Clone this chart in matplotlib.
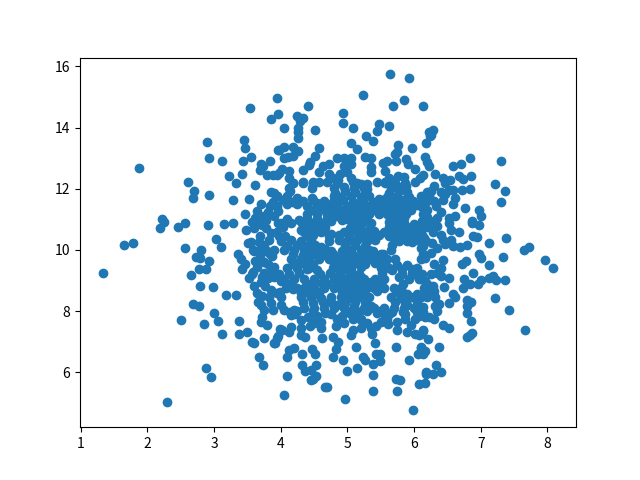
import matplotlib
matplotlib.use("Agg")
import matplotlib.pyplot as plt
import numpy as np

plt.rcParams['font.family'] = ['Noto Sans CJK SC', 'DejaVu Sans']

# values, region by region
upper_left = [(1.875,12.69),(3.54,14.65),(3.94,14.98),(3.86,14.29),(3.96,14.43),(2.90,13.54),(3.45,13.60),(3.47,13.34),
    (3.96,13.28),(2.93,13.02),(3.12,12.92),(3.56,13.05),(3.44,12.92),(3.84,12.92),(3.71,12.80),(3.74,12.75),(3.69,12.61),
    (3.79,12.46),(3.95,12.46),(3.23,12.43),(3.42,12.49),(3.33,12.20),(3.62,12.13),(2.61,12.23),(2.70,11.94),(2.69,11.71),
    (2.93,11.81),(3.29,11.64),(3.53,11.68),(3.90,11.87),(3.94,11.75),(3.84,11.45),(3.81,11.25),(3.65,11.28),(3.47,11.19),
    (3.96,11.28),(3.75,11.12),(3.57,10.92),(3.66,10.92),(3.72,10.82),(2.22,11.02),(2.25,10.92),(2.19,10.70),(2.46,10.76),
    (2.57,10.89),(2.91,10.83),(3.15,10.86),(3.28,10.89),(3.96,10.89),(3.48,10.66),(3.85,10.56),(3.03,10.37),(3.69,10.46),
    (3.98,10.46),(3.82,10.33),(3.51,10.24),(3.56,10.27),(1.65,10.17),(1.79,10.24),(2.57,10.07),(2.81,10.01),(3.11,10.11),
    (3.70,10.07)]

lower_left = [(1.33,9.26),(2.73,9.77),(2.79,9.74),(2.93,9.65),(2.78,9.36),(2.88,9.39),(2.66,9.19),(2.79,8.83),(2.99,8.77),
    (3.18,8.54),(3.33,8.54),(2.69,8.24),(2.78,8.15),(3.00,7.92),(3.06,7.69),(2.51,7.72),(2.85,7.56),(3.12,7.26),(3.38,7.66),
    (3.38,7.26),(3.50,7.33),(3.57,7.00),(3.60,6.97),(3.75,7.13),(3.90,6.97),(3.95,7.12),(3.68,6.51),(3.74,6.25),(2.88,6.15),
    (2.96,5.83),(2.30,5.04),(3.36,9.85),(3.41,9.71),(3.47,9.55),(3.42,9.36),(3.59,9.28),(3.53,9.09),(3.60,8.83),(3.57,9.20),
    (3.77,8.83),(3.81,9.09),(3.75,9.26),(3.81,9.55),(3.87,9.80),(3.69,9.80),(3.66,9.64),(3.59,10.00),(3.80,9.95),(3.97,9.20),
    (4.00,8.98),(3.94,8.59),(4.00,8.46),(3.66,8.31),(3.70,8.20),(3.86,8.25),(3.75,8.02),(3.88,8.02),(4.00,8.20),(3.72,7.80),
    (3.70,7.64),(3.80,7.53),(3.99,7.40)]

upper_mid = [(5.64,15.74),(5.93,15.63),(5.24,15.07),(4.41,14.71),(5.85,14.91),(5.69,14.71),(6.14,14.71),(4.94,14.49),
    (4.94,14.16),(4.25,14.39),(4.34,14.32),(4.29,14.23),(4.05,14.00),(4.26,14.00),(4.26,13.67),(4.26,13.84),(4.52,13.93),
    (5.09,14.00),(5.48,14.12),(5.45,13.90),(5.63,14.06),(5.28,13.73),(5.39,13.57),(5.06,13.50),(5.15,13.31),(5.76,13.44),
    (5.75,13.21),(5.72,13.15),(5.97,13.34),(6.18,13.50),(6.24,13.73),(6.23,13.85),(4.05,13.37),(4.19,13.37),(3.97,13.28),
    (4.26,13.25),(4.58,13.34),(4.52,13.08),(4.19,13.08),(4.05,13.02),(4.11,13.05),(4.44,12.88),(4.42,12.78),(4.85,13.02),
    (4.95,13.02),(5.06,13.02),(5.27,13.05),(5.36,13.02),(5.36,12.72),(5.35,12.55),(5.60,12.92),(5.54,12.85),(5.88,12.98),
    (5.73,12.92),(5.91,12.82),(6.02,12.66),(6.17,13.05),(6.20,12.88),(6.23,12.75),(5.57,12.59),(6.14,12.46),(6.09,12.35),
    (6.02,12.23),(4.02,12.66),(3.97,12.50),(4.12,12.58),(4.34,12.62),(4.64,12.75),(4.73,12.82),(4.58,12.56),(4.95,12.75),
    (5.06,12.82),(5.00,12.56),(4.73,12.49),(4.89,12.49),(4.79,12.36),(4.86,12.28),(5.06,12.36),(5.09,12.23),(5.21,12.16),
    (5.45,12.23),(5.63,12.36),(5.76,12.43),(5.85,12.40),(5.69,12.23),(5.57,12.20),(4.13,12.34),(4.18,12.20),(4.34,12.20),
    (4.48,12.23),(4.58,12.23),(3.88,12.45),(5.88,12.10)]

upper_right = [(6.28,13.93),(6.26,13.77),(6.84,13.02),(6.71,12.82),(6.59,12.75),(7.31,12.92),(6.31,12.49),(6.44,12.36),
    (6.54,12.27),(6.47,12.20),(6.67,12.43),(6.74,12.33),(6.86,12.43),(7.21,12.16),(7.36,11.94),(7.30,11.58),(6.72,11.97),
    (6.84,12.00),(6.59,11.97),(6.52,11.97),(6.47,11.84),(6.25,11.94),(6.23,11.80),(6.44,11.64),(6.62,11.71),(6.58,11.51),
    (6.33,11.45),(6.76,11.38),(6.97,11.32),(7.01,11.12),(6.61,11.12),(6.52,11.05),(6.35,11.05),(6.87,10.96),(6.87,10.87),
    (6.97,10.83),(6.52,10.87),(6.55,10.66),(6.68,10.60),(6.35,10.77),(6.89,10.47),(6.95,10.43),(7.38,10.40),(7.13,10.24),
    (7.73,10.11),(7.65,10.01),(6.44,10.33),(6.56,10.33),(6.47,10.20),(6.27,10.21),(6.80,10.15),(6.69,10.10),(6.59,10.12),
    (6.15,10.40),(6.12,10.95),(6.20,11.07),(6.25,10.75),(6.12,11.60),(6.12,11.40),(6.15,11.75),(6.20,11.60),(6.28,10.60),
    (6.12,10.75)]

lower_right = [(7.97,9.68),(8.09,9.42),(7.33,9.78),(6.44,9.68),(7.13,9.52),(6.78,9.65),(6.72,9.55),(6.97,9.88),(7.00,9.72),
    (6.16,9.75),(6.89,9.23),(6.35,9.26),(6.75,9.06),(6.53,9.08),(6.41,9.13),(7.00,9.03),(7.13,9.09),(7.19,9.16),(7.23,9.03),
    (7.37,9.03),(6.96,8.87),(6.84,8.87),(6.74,8.74),(6.45,8.77),(6.29,8.83),(6.17,8.99),(6.20,8.80),(6.59,8.57),(6.62,8.47),
    (7.22,8.44),(7.43,8.02),(6.31,8.47),(6.20,8.47),(6.80,8.37),(6.86,8.28),(6.52,8.25),(6.31,8.18),(6.37,8.23),(6.80,8.15),
    (6.80,7.95),(6.14,8.12),(6.86,7.66),(6.14,7.98),(6.22,7.82),(6.44,7.53),(6.52,7.46),(6.87,7.29),(6.84,7.20),(6.79,7.16),
    (7.67,7.39),(6.14,7.36),(6.21,7.10),(6.38,6.84),(6.10,7.25),(6.10,6.80),(6.16,6.70),(6.33,6.25),(6.41,5.99),(6.18,5.99),
    (6.29,5.93)]

lower_mid = [(5.99,4.75),(4.97,5.11),(4.05,5.24),(5.38,5.40),(5.75,5.40),(4.70,5.53),(4.67,5.50),(4.10,5.89),(4.49,5.79),
    (4.46,5.76),(4.53,5.89),(5.00,6.05),(5.15,6.15),(5.39,5.92),(5.73,5.79),(5.79,5.73),(6.08,5.60),(6.17,5.66),(6.18,5.95),
    (4.32,6.22),(4.37,6.05),(4.45,6.07),(4.53,6.22),(4.79,6.51),(4.94,6.41),(5.24,6.51),(5.26,6.41),(5.39,6.28),(5.49,6.38),
    (5.43,6.61),(5.49,6.58),(5.93,6.41),(6.06,6.61),(6.13,6.60),(6.11,6.81),(5.73,6.81),(5.42,6.94),(5.13,6.84),(4.83,6.77),
    (4.86,7.00),(4.79,7.15),(4.62,7.13),(4.32,6.61),(4.47,6.77),(4.52,6.61),(4.10,6.51),(4.13,6.74),(4.20,6.80),(3.91,6.97),
    (3.96,7.17),(4.02,7.39),(4.13,7.30),(4.16,7.49),(4.31,7.46),(4.31,7.23),(4.36,7.15),(4.44,7.52),(4.61,7.46),(4.83,7.52),
    (5.06,7.20),(5.09,7.39),(5.21,7.46),(5.21,7.70),(5.35,7.46),(5.43,7.50),(5.37,7.26),(5.75,7.39),(5.89,7.30),(6.02,7.26),
    (6.08,7.23),(6.14,7.39),(5.61,7.59),(4.16,7.86),(4.22,7.90),(4.41,7.80),(4.54,7.85),(4.85,7.74),(4.92,7.85),(5.05,7.90),
    (5.09,7.74),(5.21,7.74),(5.44,7.95),(5.63,7.90),(5.59,7.74),(5.86,7.74),(5.86,7.90),(6.07,7.85),(6.17,7.80),(6.02,7.74)]

centre = [(4.19,12.18),(4.34,12.22),(4.49,12.17),(4.69,12.21),(4.84,12.19),(5.14,12.2),(5.29,12.17),(5.57,12.22),(5.72,12.18),(5.87,12.2),
    (3.86,11.89),(4.14,11.91),(4.82,11.87),(4.97,11.92),(5.12,11.88),(5.27,11.9),(5.62,11.86),(5.77,11.91),(5.89,11.88),(6.19,11.9),
    (3.89,11.58),(4.04,11.62),(4.19,11.57),(4.34,11.6),(4.49,11.62),(4.79,11.58),(4.94,11.62),(5.09,11.57),(5.24,11.61),(5.39,11.58),(5.54,11.62),(5.69,11.59),(5.84,11.63),(5.99,11.6),(6.14,11.58),
    (4.47,11.31),(4.60,11.34),(4.74,11.29),(4.85,11.33),(5.02,11.3),(5.15,11.34),(5.39,11.29),(5.54,11.33),(5.69,11.3),(5.82,11.34),(6.19,11.3),
    (4.09,11.02),(4.27,10.98),(4.39,11.04),(4.54,11.0),(4.69,11.03),(4.84,11.1),(4.99,11.0),(5.14,11.04),(5.29,10.99),(5.64,11.03),(5.77,10.99),(6.19,11.02),
    (4.04,10.74),(4.37,10.76),(4.52,10.72),(4.67,10.75),(5.04,10.73),(5.19,10.76),(5.34,10.72),(5.62,10.76),(5.77,10.72),(5.89,10.75),(6.04,10.73),(6.19,10.76),
    (3.94,10.6),(4.07,10.47),(4.39,10.45),(4.49,10.49),(4.72,10.46),(4.87,10.49),(5.02,10.45),(5.17,10.48),(5.32,10.46),(5.47,10.49),(5.62,10.45),(5.82,10.48),(5.97,10.46),(6.12,10.49),
    (4.09,10.14),(4.24,10.17),(4.39,10.12),(4.52,10.16),(4.67,10.04),(4.97,10.13),(5.12,10.17),(5.27,10.12),(5.39,9.98),(5.67,10.15),(5.77,10.3),(5.97,10.26),(6.14,10.13),
    (3.84,9.85),(4.19,9.87),(4.34,9.83),(4.49,9.86),(4.64,9.84),(4.79,9.87),(5.09,9.83),(5.24,9.86),(5.39,9.84),(5.54,9.87),(6.14,9.85),
    (4.19,9.55),(4.32,9.58),(4.49,9.53),(4.84,9.56),(4.97,9.39),(5.12,9.57),(5.27,9.54),(5.42,9.57),(5.57,9.53),(5.82,9.39),(5.97,9.39),
    (4.12,9.22),(4.27,9.25),(4.59,9.21),(4.74,9.24),(4.89,9.2),(5.04,9.23),(5.17,9.21),(5.52,9.24),(5.67,9.33),(5.82,9.2),(5.97,9.23),(6.12,9.21),
    (4.14,8.89),(4.49,8.87),(4.62,8.91),(4.87,8.88),(5.02,8.91),(5.17,8.87),(5.32,8.9),(5.47,8.87),(5.84,8.9),(6.19,8.88),
    (3.99,8.62),(4.19,8.73),(4.42,8.6),(4.57,8.63),(4.92,8.61),(5.07,8.64),(5.22,8.6),(5.74,8.63),(5.84,8.6),(6.19,8.62),
    (4.34,8.29),(4.49,8.26),(4.64,8.3),(4.97,8.27),(5.12,8.31),(5.27,8.28),(5.72,8.3),(5.87,8.27),
    (4.14,7.97),(4.49,7.99),(4.67,7.95),(4.99,7.98),(5.17,7.96),(5.49,7.99),(5.67,7.96),(5.84,7.98),(6.04,7.96)]

centre_fill = [(4.12,12.03),(4.47,12.03),(4.8,12.03),(4.95,12.05),(5.1,12.02),(5.25,12.04),(5.65,12.03),(5.8,12.05),
    (3.95,11.75),(4.1,11.76),(4.25,11.7),(4.47,11.7),(4.8,11.75),(4.9,11.72),(5.05,11.76),(5.2,11.73),(5.32,11.76),(5.47,11.65),(5.6,11.74),(5.75,11.76),(5.92,11.73),(6.1,11.75),
    (3.95,11.45),(4.1,11.5),(4.25,11.5),(4.4,11.45),(4.55,11.47),(4.7,11.44),(4.85,11.46),(5.0,11.44),(5.15,11.47),(5.3,11.45),(5.45,11.46),(5.6,11.44),(5.75,11.47),(5.9,11.45),(6.05,11.48),
    (4.4,11.17),(4.55,11.18),(4.7,11.16),(4.9,11.2),(5.05,11.17),(5.2,11.18),(5.33,11.16),(5.47,11.18),(5.6,11.17),(5.75,11.16),(5.88,11.18),(6.13,11.17),
    (4.0,10.88),(4.15,10.89),(4.32,10.87),(4.47,10.89),(4.62,10.87),(4.75,10.95),(4.92,10.98),(5.07,10.88),(5.22,10.87),(5.36,10.89),(5.7,10.88),(5.85,10.87),(6.0,10.85),(6.15,10.88),
    (4.35,10.6),(4.45,10.62),(4.6,10.59),(4.75,10.52),(4.95,10.6),(5.1,10.61),(5.25,10.59),(5.4,10.61),(5.55,10.6),(5.7,10.61),(5.85,10.59),(6.0,10.6),
    (4.0,10.3),(4.15,10.31),(4.3,10.29),(4.45,10.31),(4.72,10.3),(4.87,10.32),(5.0,10.3),(5.15,10.31),(5.3,10.29),(5.42,10.31),(5.7,10.42),(5.9,10.3),(6.05,10.31),(6.18,10.29),
    (3.9,10.0),(4.05,10.01),(4.2,9.99),(4.35,10.01),(4.5,10.0),(4.75,9.95),(4.92,9.95),(5.05,10.0),(5.2,10.01),(5.33,9.99),(5.5,9.85),(5.65,10.0),(6.1,10.05),
    (4.15,9.7),(4.3,9.71),(4.42,9.69),(4.57,9.7),(4.72,9.71),(4.87,9.69),(5.02,9.71),(5.17,9.7),(5.32,9.69),(5.47,9.71),(5.6,9.7),(5.72,9.69),(6.1,9.7),
    (4.1,9.4),(4.25,9.41),(4.4,9.39),(4.78,9.4),(4.9,9.39),(5.05,9.41),(5.2,9.45),(5.5,9.4),(5.62,9.41),(5.75,9.5),(5.9,9.52),(6.05,9.4),
    (4.05,9.05),(4.2,9.06),(4.35,9.04),(4.5,9.05),(4.65,9.06),(4.8,9.04),(4.95,9.06),(5.1,9.05),(5.25,9.04),(5.42,9.06),(5.55,9.05),(5.78,9.1),(5.92,9.05),(6.07,9.06),
    (4.08,8.75),(4.25,8.76),(4.35,8.74),(4.5,8.75),(4.65,8.76),(4.8,8.74),(4.95,8.76),(5.1,8.75),(5.25,8.74),(5.4,8.76),(5.55,8.75),(5.7,8.74),(5.8,8.76),(6.15,8.75),
    (4.3,8.45),(4.45,8.46),(4.6,8.44),(4.75,8.45),(4.9,8.46),(5.05,8.44),(5.2,8.45),(5.32,8.46),(5.65,8.45),(5.8,8.44),(5.95,8.46),(6.1,8.45),
    (4.05,8.05),(4.2,8.05),(4.35,8.1),(4.5,8.1),(4.65,8.11),(4.8,8.09),(4.95,8.1),(5.1,8.11),(5.25,8.09),(5.4,8.1),(5.55,8.1),(5.7,8.11),(5.85,8.09),(6.0,8.1),
    (3.6,10.7),(3.78,10.7),(3.6,9.95),(3.75,10.15),(3.75,9.6),(3.9,9.45),(3.65,9.45),(3.9,9.1),(3.7,8.95),(3.85,8.7),(3.65,8.6)]

extra_fill = [(3.7,11.5),(3.62,11.05),(3.9,11.1),(3.78,10.98),(3.68,10.25),(3.85,9.3),(3.72,9.1),(3.62,9.65),(3.82,8.45),(3.72,8.5),
    (4.45,10.2),(4.3,10.65),(4.6,10.1),(4.65,10.65),(4.55,9.95),(4.42,9.95),(4.27,9.6),(4.42,9.4),(4.55,9.35),(4.8,9.55),(4.95,9.55),
    (5.05,9.3),(4.85,9.1),(4.7,8.9),(4.55,8.55),(4.4,8.9),(4.3,8.6),(5.0,8.5),(5.15,8.6),(5.3,8.75),(5.45,8.65),(5.35,8.95),(5.2,9.1),
    (5.0,9.0),(5.15,9.75),(5.3,9.8),(5.45,9.65),(5.0,9.8),(4.85,9.75),(5.1,10.3),(5.25,10.4),(5.0,10.6),(5.15,10.9),(5.3,11.1),(5.0,11.15),
    (5.62,10.9),(5.75,10.55),(5.92,10.6),(5.85,11.05),(5.7,11.45),(5.35,11.4),(5.2,11.3),(4.65,11.6),(4.55,11.55),(4.9,11.3),(4.75,11.1),
    (5.55,11.5),(5.75,11.2),(5.95,11.3),(5.3,12.0),
    (4.3,7.7),(4.6,7.65),(4.75,7.9),(4.95,7.6),(5.3,7.6),(5.5,7.65),(5.75,7.65),(5.95,7.55),(4.25,8.0),(4.5,7.6),(5.05,8.0),(5.3,8.0),
    (5.55,7.9),(5.9,8.2),(6.05,8.3),(4.85,8.2),(4.75,8.3),(5.1,8.15),(5.35,8.15),(5.9,8.55),(6.05,8.55),(6.0,9.2),(6.1,9.05),
    (6.25,9.2),(6.3,9.55),(6.25,9.9),(6.35,10.05),(6.4,10.5),(6.3,10.95),(6.4,11.25),(6.3,11.6),(6.4,11.9),(6.3,12.1),(6.3,8.65),
    (6.35,8.0),(6.3,7.75),(6.4,9.4)]

points = np.array(upper_left + lower_left + upper_mid + upper_right + lower_right + lower_mid + centre + centre_fill + extra_fill)

fig, ax = plt.subplots(figsize=(6.4, 4.8), dpi=100)
ax.scatter(points[:, 0], points[:, 1])
ax.set_xticks(range(1, 9))
fig.savefig("out.png")
